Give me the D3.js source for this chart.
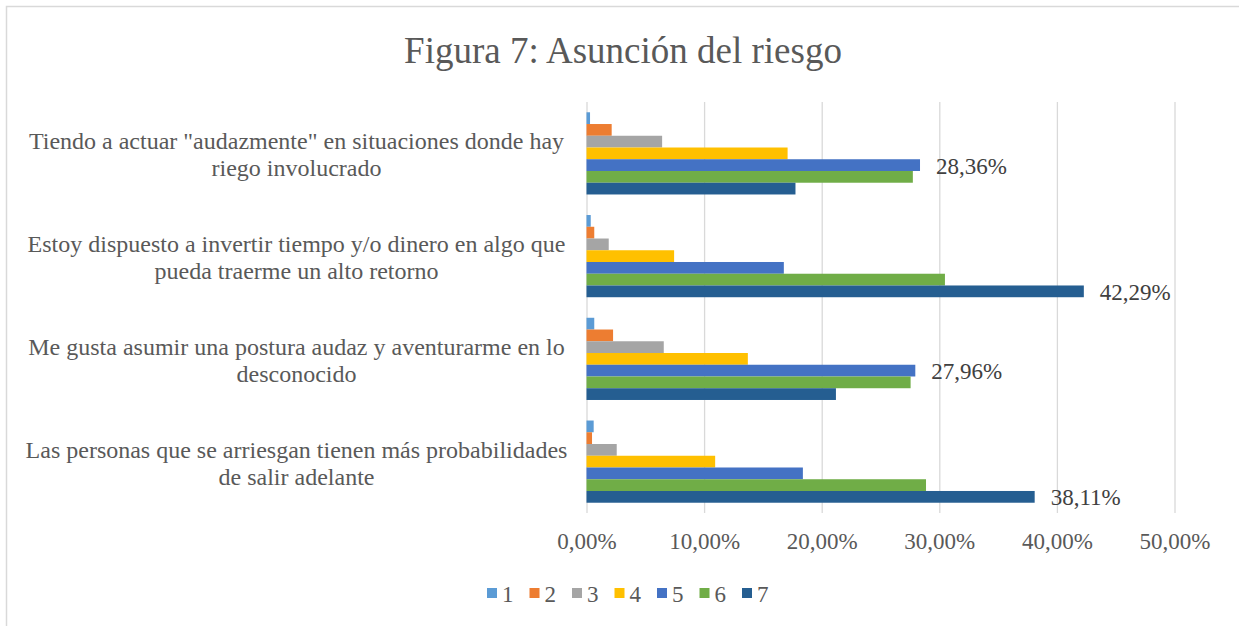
<!DOCTYPE html>
<html lang="es">
<head>
  <meta charset="UTF-8">
  <title>Figura 7: Asunción del riesgo</title>
  <script src="https://cdn.jsdelivr.net/npm/d3@7.6.1/dist/d3.min.js"></script>
  <style>
    body { margin: 0; background: #fff; }
    svg text { font-family: "Liberation Serif", "Times New Roman", serif; }
  </style>
</head>
<body>
  <div id="box"></div>
  <script>
    const width = 1239
    const height = 626
    const margin = { left: 586.5, right: 64.5, top: 102, bottom: 113 }
    const serif = '"Liberation Serif", "Times New Roman", serif'

    // categorias de arriba a abajo ("|" marca el salto de linea)
    const categories = [
      'Tiendo a actuar "audazmente" en situaciones donde hay|riego involucrado',
      'Estoy dispuesto a invertir tiempo y/o dinero en algo que|pueda traerme un alto retorno',
      'Me gusta asumir una postura audaz y aventurarme en lo|desconocido',
      'Las personas que se arriesgan tienen más probabilidades|de salir adelante'
    ]
    const seriesNames = ['1', '2', '3', '4', '5', '6', '7']
    // porcentaje por categoria, una lista por serie
    const serie1 = [0.30, 0.36, 0.66, 0.61]
    const serie2 = [2.14, 0.66, 2.26, 0.47]
    const serie3 = [6.43, 1.89, 6.57, 2.57]
    const serie4 = [17.10, 7.45, 13.72, 10.94]
    const serie5 = [28.36, 16.78, 27.96, 18.40]
    const serie6 = [27.75, 30.48, 27.56, 28.87]
    const serie7 = [17.77, 42.29, 21.21, 38.11]
    const xTicks = [0, 10, 20, 30, 40, 50]
    const colors = ['#5B9BD5', '#ED7D31', '#A5A5A5', '#FFC000', '#4472C4', '#70AD47', '#255E91']

    const allSeries = [serie1, serie2, serie3, serie4, serie5, serie6, serie7]
    const rows = categories.map((c, i) => ({
      cat: c,
      values: allSeries.map((s, j) => ({ key: seriesNames[j], value: s[i] }))
    }))

    const locale = d3.formatLocale({ decimal: ',', thousands: '.', grouping: [3], currency: ['', '€'] })
    const fmt = v => locale.format('.2f')(v) + '%'

    const svg = d3.select('#box').append('svg')
      .attr('width', width)
      .attr('height', height)
      .style('display', 'block')

    // borde del grafico
    svg.append('rect')
      .attr('x', 6.5).attr('y', 6.5)
      .attr('width', width + 20).attr('height', height + 20)
      .attr('fill', 'none')
      .attr('stroke', '#d9d9d9')
      .attr('stroke-width', 1.5)

    svg.append('text')
      .attr('x', 623).attr('y', 50)
      .attr('text-anchor', 'middle')
      .attr('dominant-baseline', 'central')
      .attr('font-family', serif)
      .attr('font-size', 37)
      .attr('fill', '#595959')
      .text('Figura 7: Asunción del riesgo')

    const xScale = d3.scaleLinear().domain([0, 50]).range([margin.left, width - margin.right])
    const yScale = d3.scaleBand().domain(categories)
      .range([margin.top, height - margin.bottom])
      .paddingInner(0.2).paddingOuter(0.1)
    const ySub = d3.scaleBand().domain(seriesNames).range([0, yScale.bandwidth()])

    // rejilla + etiquetas del eje X
    const xAxis = d3.axisBottom(xScale)
      .tickValues(xTicks)
      .tickSize(-(height - margin.bottom - margin.top))
      .tickFormat(fmt)
    const gx = svg.append('g')
      .attr('transform', `translate(0,${height - margin.bottom})`)
      .call(xAxis)
      .attr('font-family', serif)
    gx.select('.domain').remove()
    gx.selectAll('.tick line').attr('stroke', '#d9d9d9').attr('stroke-width', 1.3)
    gx.selectAll('.tick text')
      .attr('y', 28)
      .attr('dy', null)
      .attr('dominant-baseline', 'central')
      .attr('font-size', 23)
      .attr('fill', '#595959')

    // barras
    const groups = svg.append('g').selectAll('g')
      .data(rows)
      .join('g')
      .attr('transform', d => `translate(0,${yScale(d.cat)})`)

    groups.selectAll('rect')
      .data(d => d.values)
      .join('rect')
      .attr('x', xScale(0))
      .attr('y', d => ySub(d.key))
      .attr('width', d => xScale(d.value) - xScale(0))
      .attr('height', ySub.bandwidth())
      .attr('fill', (d, i) => colors[i])

    // etiqueta del valor maximo de cada grupo
    groups.append('text')
      .datum(d => d.values.reduce((a, b) => (b.value > a.value ? b : a)))
      .attr('x', d => xScale(d.value) + 16)
      .attr('y', d => ySub(d.key) + ySub.bandwidth() / 2 + 1)
      .attr('dominant-baseline', 'central')
      .attr('font-family', serif)
      .attr('font-size', 23)
      .attr('fill', '#404040')
      .text(d => fmt(d.value))

    // etiquetas de categoria (centradas, en dos lineas)
    svg.append('g').selectAll('text')
      .data(categories)
      .join('text')
      .attr('text-anchor', 'middle')
      .attr('font-family', serif)
      .attr('font-size', 24)
      .attr('fill', '#595959')
      .each(function (d) {
        const lines = d.split('|')
        const cy = yScale(d) + yScale.bandwidth() / 2
        d3.select(this).selectAll('tspan')
          .data(lines)
          .join('tspan')
          .attr('x', 296.5)
          .attr('y', (l, i) => cy + (i - (lines.length - 1) / 2) * 27 + 1.5)
          .attr('dominant-baseline', 'central')
          .text(l => l)
      })

    // leyenda
    const legend = svg.append('g').selectAll('g')
      .data(seriesNames)
      .join('g')
      .attr('transform', (d, i) => `translate(${487 + i * 42.5},593)`)
    legend.append('rect')
      .attr('x', 0).attr('y', -5)
      .attr('width', 10).attr('height', 10)
      .attr('fill', (d, i) => colors[i])
    legend.append('text')
      .attr('x', 15).attr('y', 1)
      .attr('dominant-baseline', 'central')
      .attr('font-family', serif)
      .attr('font-size', 23)
      .attr('fill', '#595959')
      .text(d => d)
  </script>
</body>
</html>
